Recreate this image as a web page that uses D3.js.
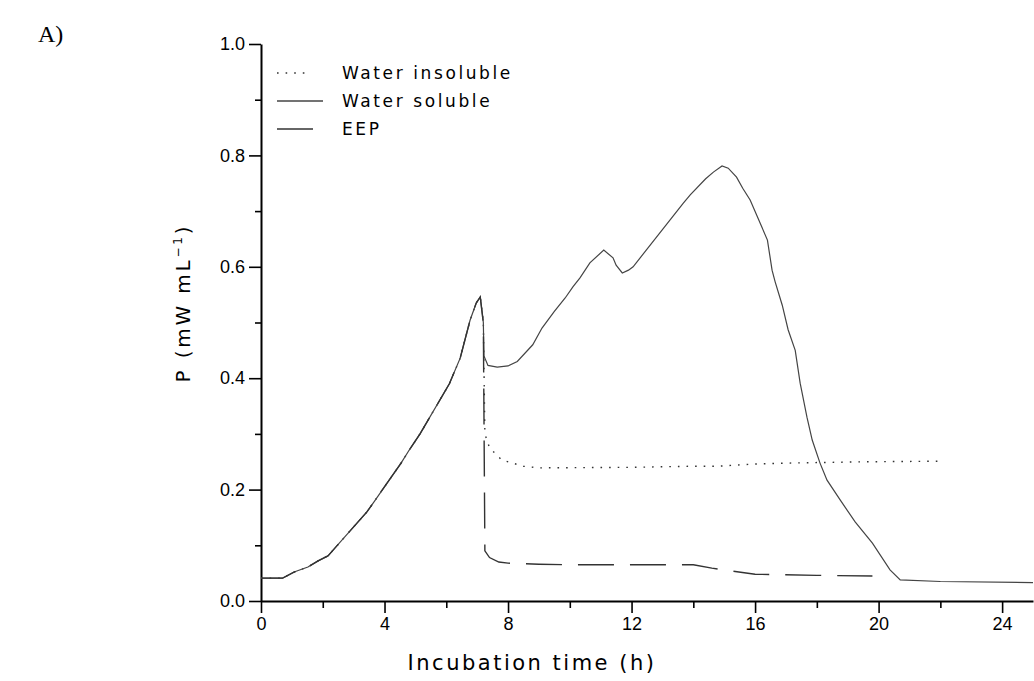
<!DOCTYPE html>
<html>
<head>
<meta charset="utf-8">
<script src="https://cdn.jsdelivr.net/npm/d3@7"></script>
<style>
  body { margin: 0; background: #fff; }
  svg { font-family: "DejaVu Sans", sans-serif; }
</style>
</head>
<body>
<div id="chart"></div>
<script>
// shared rising part (all three runs overlap until the peak)
var riseTime = [0, 0.7, 1.07, 1.52, 1.85, 2.17, 3.43, 3.66, 4.15, 4.53, 4.8, 5.15, 6.1, 6.45, 6.77, 6.97, 7.1];
var riseP    = [0.041, 0.041, 0.052, 0.061, 0.072, 0.081, 0.16, 0.178, 0.217, 0.247, 0.271, 0.30, 0.39, 0.436, 0.504, 0.535, 0.546];

// water insoluble, after the peak
var insolTime = [7.2, 7.25, 7.4, 7.8, 8.5, 9, 12, 14, 14.8, 16, 17.4, 19.7, 22];
var insolP    = [0.5, 0.30, 0.275, 0.253, 0.242, 0.239, 0.24, 0.242, 0.242, 0.246, 0.248, 0.25, 0.251];

// water soluble, after the peak
var solTime = [7.2, 7.22, 7.35, 7.65, 8, 8.3, 8.8, 9.1, 9.5, 9.85, 10.1, 10.33, 10.65, 11.1, 11.4, 11.5, 11.7, 11.9, 12.05,
               13.67, 13.9, 14.4, 14.65, 14.93, 15.13, 15.4, 15.6, 15.84, 16.4, 16.55, 16.65, 16.88, 17.07, 17.3, 17.46,
               17.68, 17.85, 18.1, 18.33, 18.76, 19.24, 19.8, 20.37, 20.7, 22, 25];
var solP    = [0.5, 0.44, 0.423, 0.42, 0.422, 0.43, 0.46, 0.49, 0.52, 0.544, 0.564, 0.58, 0.607, 0.63, 0.616, 0.603, 0.589, 0.594, 0.6,
               0.714, 0.729, 0.758, 0.77, 0.781, 0.777, 0.761, 0.741, 0.72, 0.648, 0.594, 0.573, 0.531, 0.487, 0.45, 0.391,
               0.33, 0.289, 0.248, 0.217, 0.181, 0.142, 0.104, 0.056, 0.038, 0.035, 0.033];

// EEP, after the peak
var eepTime = [7.2, 7.25, 7.4, 7.7, 8, 9, 10, 12, 14, 14.6, 16, 18, 19.8];
var eepP    = [0.5, 0.09, 0.078, 0.07, 0.068, 0.066, 0.065, 0.065, 0.065, 0.059, 0.048, 0.046, 0.045];

var seriesNames = ["Water insoluble", "Water soluble", "EEP"];
var xTicks = [0, 4, 8, 12, 16, 20, 24];
var yTicks = [0, 0.2, 0.4, 0.6, 0.8, 1.0];

function zipPts(t, p) { return t.map(function(d, i) { return [d, p[i]]; }); }
var rise = zipPts(riseTime, riseP);
var series = [
  { name: seriesNames[0], pts: rise.concat(zipPts(insolTime, insolP)), dash: "1.6,7", w: 1.4, col: "#333" },
  { name: seriesNames[1], pts: rise.concat(zipPts(solTime, solP)), dash: null, w: 1.2, col: "#444" },
  { name: seriesNames[2], pts: rise.concat(zipPts(eepTime, eepP)), dash: "36,16", w: 1.4, col: "#333" }
];

var width = 1034, height = 681;
var svg = d3.select("#chart").append("svg")
    .attr("width", width)
    .attr("height", height);

var x = d3.scaleLinear().domain([0, 25]).range([261, 1033]);
var y = d3.scaleLinear().domain([0, 1]).range([601, 44]);

// x axis: major + minor ticks
var xAxis = svg.append("g").attr("transform", "translate(0," + y(0) + ")");
xAxis.append("g")
    .call(d3.axisBottom(x).tickValues(d3.range(2, 25, 4)).tickSize(7).tickFormat(""))
    .call(function(g) { g.select(".domain").remove(); });
xAxis.append("g")
    .call(d3.axisBottom(x).tickValues(xTicks).tickSize(12).tickSizeOuter(0).tickPadding(4))
    .call(function(g) { g.select(".domain").attr("stroke-width", 2); });
xAxis.selectAll("line").attr("stroke-width", 1.6);
xAxis.selectAll("text").attr("font-size", 18).attr("fill", "#000");

// y axis
var yAxis = svg.append("g").attr("transform", "translate(" + x(0) + ",0)");
yAxis.append("g")
    .call(d3.axisLeft(y).tickValues(d3.range(0.1, 1, 0.2)).tickSize(6).tickFormat(""))
    .call(function(g) { g.select(".domain").remove(); });
yAxis.append("g")
    .call(d3.axisLeft(y).tickValues(yTicks).tickSize(12).tickSizeOuter(0).tickPadding(4).tickFormat(d3.format(".1f")))
    .call(function(g) { g.select(".domain").attr("stroke-width", 2); });
yAxis.selectAll("line").attr("stroke-width", 1.6);
yAxis.selectAll("text").attr("font-size", 18).attr("fill", "#000");

// lines
var line = d3.line()
    .x(function(d) { return x(d[0]); })
    .y(function(d) { return y(d[1]); });

svg.selectAll(".run")
  .data(series)
  .enter().append("path")
    .attr("class", "run")
    .attr("d", function(d) { return line(d.pts); })
    .attr("fill", "none")
    .attr("stroke", function(d) { return d.col; })
    .attr("stroke-width", function(d) { return d.w; })
    .attr("stroke-dasharray", function(d) { return d.dash; });

// legend
var lg = svg.append("g").attr("transform", "translate(277,73)");
var item = lg.selectAll(".item")
  .data(series)
  .enter().append("g")
    .attr("transform", function(d, i) { return "translate(0," + i * 28 + ")"; });
item.append("line")
    .attr("x1", 0)
    .attr("x2", function(d, i) { return [30, 46, 36][i]; })
    .attr("stroke", function(d) { return d.col; })
    .attr("stroke-width", 1.4)
    .attr("stroke-dasharray", function(d) { return d.dash; });
item.append("text")
    .attr("x", 65)
    .attr("dy", "0.35em")
    .attr("font-size", 17)
    .attr("letter-spacing", 2.6)
    .text(function(d) { return d.name; });

// axis titles
svg.append("text")
    .attr("x", 532)
    .attr("y", 670)
    .attr("text-anchor", "middle")
    .attr("font-size", 21)
    .attr("letter-spacing", 2.5)
    .text("Incubation time (h)");

svg.append("text")
    .attr("transform", "translate(190,303) rotate(-90)")
    .attr("text-anchor", "middle")
    .attr("font-size", 20)
    .attr("letter-spacing", 2.8)
    .html('P (mW mL<tspan dy="-8" font-size="12">−1</tspan><tspan dy="8">)</tspan>');

svg.append("text")
    .attr("x", 38)
    .attr("y", 42)
    .attr("font-family", "Liberation Serif, serif")
    .attr("font-size", 24)
    .text("A)");
</script>
</body>
</html>
